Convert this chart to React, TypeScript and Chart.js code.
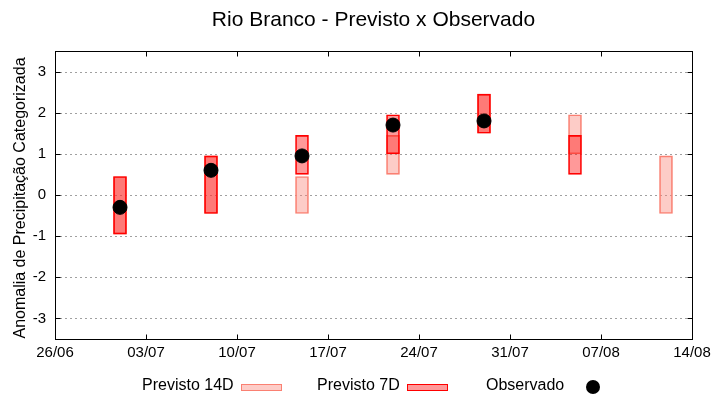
import React, { useEffect, useRef } from 'react';
import { Chart, registerables } from 'chart.js';

Chart.register(...registerables);

const chartTitle = 'Rio Branco - Previsto x Observado';
const yAxisTitle = 'Anomalia de Precipitação Categorizada';
const xTickLabels = ['26/06', '03/07', '10/07', '17/07', '24/07', '31/07', '07/08', '14/08'];
const yTicks = [-3, -2, -1, 0, 1, 2, 3];
const weeks = ['01/07', '08/07', '15/07', '22/07', '29/07', '05/08', '12/08'];
const prev14Low = [-0.95, -0.45, -0.45, 0.5, 1.5, 1.0, -0.45];
const prev14High = [0.45, 0.95, 0.45, 1.45, 2.45, 1.95, 0.95];
const prev7Low: (number | null)[] = [-0.95, -0.45, 0.5, 1.0, 1.5, 0.5, null];
const prev7High: (number | null)[] = [0.45, 0.95, 1.45, 1.95, 2.45, 1.45, null];
const observed: (number | null)[] = [-0.3, 0.6, 0.95, 1.7, 1.8, null, null];
const legendLabels = ['Previsto 14D', 'Previsto 7D', 'Observado'];

const FONT = '"Liberation Sans", Arial, sans-serif';
const C14_FILL = 'rgba(250,128,114,0.4)';
const C14_LINE = 'rgb(250,128,114)';
const C7_FILL = 'rgba(255,0,0,0.4)';
const C7_LINE = 'rgb(255,0,0)';

function dayOffset(s: string): number {
  const [d0, m0] = xTickLabels[0].split('/').map(Number);
  const [d, m] = s.split('/').map(Number);
  return (Date.UTC(2000, m - 1, d) - Date.UTC(2000, m0 - 1, d0)) / 86400000;
}

const framePlugin = {
  id: 'gnuFrame',
  beforeDatasetsDraw(chart: any) {
    const { ctx, chartArea: a, scales } = chart;
    ctx.save();
    ctx.strokeStyle = '#a0a0a0';
    ctx.lineWidth = 1;
    ctx.setLineDash([2, 3]);
    yTicks.forEach((v) => {
      const y = Math.round(scales.y.getPixelForValue(v)) + 0.5;
      ctx.beginPath();
      ctx.moveTo(a.left, y);
      ctx.lineTo(a.right, y);
      ctx.stroke();
    });
    ctx.restore();
  },
  afterDraw(chart: any) {
    const { ctx, chartArea: a, scales } = chart;
    ctx.save();
    ctx.strokeStyle = '#000';
    ctx.lineWidth = 1;
    ctx.setLineDash([]);
    const L = Math.round(a.left) + 0.5;
    const R = Math.round(a.right) + 0.5;
    const T = Math.round(a.top) + 0.5;
    const B = Math.round(a.bottom) + 0.5;
    ctx.strokeRect(L, T, R - L, B - T);
    const tl = 5;
    ctx.beginPath();
    xTickLabels.forEach((lab) => {
      const x = Math.round(scales.x.getPixelForValue(dayOffset(lab))) + 0.5;
      ctx.moveTo(x, B); ctx.lineTo(x, B - tl);
      ctx.moveTo(x, T); ctx.lineTo(x, T + tl);
    });
    yTicks.forEach((v) => {
      const y = Math.round(scales.y.getPixelForValue(v)) + 0.5;
      ctx.moveTo(L, y); ctx.lineTo(L + tl, y);
      ctx.moveTo(R, y); ctx.lineTo(R - tl, y);
    });
    ctx.stroke();

    ctx.fillStyle = '#000';
    ctx.font = `21px ${FONT}`;
    ctx.textAlign = 'center';
    ctx.textBaseline = 'middle';
    ctx.fillText(chartTitle, (a.left + a.right) / 2, 20);

    ctx.save();
    ctx.translate(21, (a.top + a.bottom) / 2 + 3);
    ctx.rotate(-Math.PI / 2);
    ctx.font = `16px ${FONT}`;
    ctx.fillText(yAxisTitle, 0, 0);
    ctx.restore();

    // legend
    ctx.font = `16px ${FONT}`;
    ctx.textAlign = 'left';
    ctx.textBaseline = 'middle';
    const ly = 386;
    ctx.fillText(legendLabels[0], 142, ly);
    ctx.fillStyle = C14_FILL;
    ctx.fillRect(241, 384, 40, 6);
    ctx.strokeStyle = C14_LINE;
    ctx.strokeRect(241.5, 384.5, 40, 6);
    ctx.fillStyle = '#000';
    ctx.fillText(legendLabels[1], 317, ly);
    ctx.fillStyle = C7_FILL;
    ctx.fillRect(407, 384, 40, 6);
    ctx.strokeStyle = C7_LINE;
    ctx.strokeRect(407.5, 384.5, 40, 6);
    ctx.fillStyle = '#000';
    ctx.fillText(legendLabels[2], 486, ly);
    ctx.beginPath();
    ctx.arc(593, 387, 7, 0, Math.PI * 2);
    ctx.fill();
    ctx.restore();
  },
};

export default function App() {
  const ref = useRef<HTMLCanvasElement | null>(null);
  useEffect(() => {
    document.body.style.margin = '0';
    const canvas = ref.current;
    if (!canvas) return;
    const xs = weeks.map(dayOffset);
    const d14 = xs.map((x, i) => ({ x, y: [prev14Low[i], prev14High[i]] }));
    const d7 = xs
      .map((x, i) => (prev7Low[i] == null ? null : { x, y: [prev7Low[i], prev7High[i]] }))
      .filter(Boolean);
    const dObs = xs
      .map((x, i) => (observed[i] == null ? null : { x, y: observed[i] }))
      .filter(Boolean);

    const chart = new Chart(canvas, {
      type: 'bar',
      data: {
        datasets: [
          {
            type: 'scatter',
            label: legendLabels[2],
            data: dObs as any,
            backgroundColor: '#000',
            borderColor: '#000',
            pointRadius: 7,
            pointHoverRadius: 7,
            order: 0,
          } as any,
          {
            label: legendLabels[1],
            data: d7 as any,
            backgroundColor: C7_FILL,
            borderColor: C7_LINE,
            borderWidth: 1,
            borderSkipped: false,
            barThickness: 13,
            grouped: false,
            order: 1,
          },
          {
            label: legendLabels[0],
            data: d14 as any,
            backgroundColor: C14_FILL,
            borderColor: C14_LINE,
            borderWidth: 1,
            borderSkipped: false,
            barThickness: 13,
            grouped: false,
            order: 2,
          },
        ],
      },
      options: {
        responsive: false,
        animation: false,
        layout: { padding: { top: 51, right: 28, bottom: 0, left: 0 } },
        plugins: { legend: { display: false }, title: { display: false }, tooltip: { enabled: false } },
        scales: {
          x: {
            type: 'linear',
            offset: false,
            min: 0,
            max: dayOffset(xTickLabels[xTickLabels.length - 1]),
            grid: { display: false, drawTicks: false, offset: false },
            border: { display: false },
            afterFit: (s: any) => { s.height = 61; },
            afterBuildTicks: (s: any) => { s.ticks = xTickLabels.map((l) => ({ value: dayOffset(l) })); },
            ticks: {
              autoSkip: false,
              maxRotation: 0,
              padding: 5,
              color: '#000',
              font: { family: FONT, size: 15 },
              callback: (v: any) => {
                const i = xTickLabels.findIndex((l) => dayOffset(l) === v);
                return i >= 0 ? xTickLabels[i] : '';
              },
            },
          },
          y: {
            type: 'linear',
            min: -3.5,
            max: 3.5,
            grid: { display: false, drawTicks: false },
            border: { display: false },
            afterFit: (s: any) => { s.width = 55; },
            afterBuildTicks: (s: any) => { s.ticks = yTicks.map((v) => ({ value: v })); },
            ticks: {
              padding: 9,
              color: '#000',
              font: { family: FONT, size: 15 },
            },
          },
        },
      } as any,
      plugins: [framePlugin],
    });
    return () => chart.destroy();
  }, []);
  return <canvas ref={ref} width={720} height={400} style={{ display: 'block', width: 720, height: 400 }} />;
}
